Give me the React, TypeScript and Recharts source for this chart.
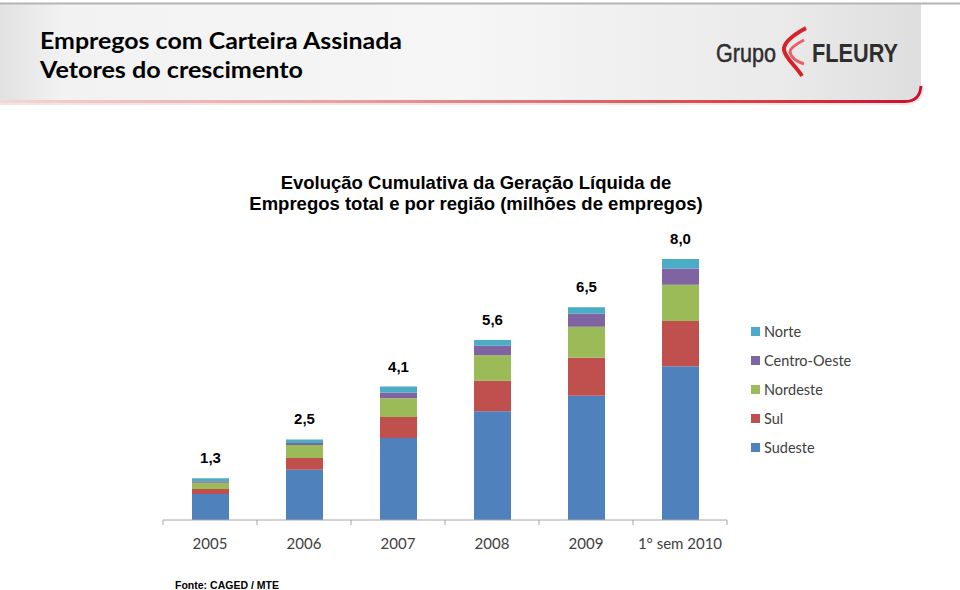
import React from "react";
import { Bar, BarChart, LabelList, XAxis, YAxis } from "recharts";

const categories = ["2005", "2006", "2007", "2008", "2009", "1° sem 2010"];
const totals = [1.3, 2.5, 4.1, 5.6, 6.5, 8.0];

// milhões de empregos, acumulado por região
const sudeste = [0.8, 1.54, 2.51, 3.33, 3.81, 4.71];
const sul = [0.15, 0.36, 0.65, 0.94, 1.16, 1.39];
const nordeste = [0.19, 0.4, 0.57, 0.78, 0.95, 1.11];
const centroOeste = [0.05, 0.06, 0.18, 0.29, 0.4, 0.5];
const norte = [0.09, 0.11, 0.18, 0.18, 0.2, 0.29];

const series = [
  { key: "sudeste", name: "Sudeste", color: "#4F81BD", values: sudeste },
  { key: "sul", name: "Sul", color: "#C0504D", values: sul },
  { key: "nordeste", name: "Nordeste", color: "#9BBB59", values: nordeste },
  { key: "centroOeste", name: "Centro-Oeste", color: "#8064A2", values: centroOeste },
  { key: "norte", name: "Norte", color: "#4BACC6", values: norte },
];

const data = categories.map((cat, i) => {
  const row: Record<string, string | number> = { cat, total: totals[i] };
  series.forEach((s) => {
    row[s.key] = s.values[i];
  });
  return row;
});

const CALIBRI = "Lato, 'Open Sans', sans-serif";
const ARIAL = "'Liberation Sans', Arial, sans-serif";
const BAND_HALF = 47;

function YearTick(props: any) {
  const { x, y, payload, index } = props;
  const last = index === categories.length - 1;
  return (
    <g>
      <line x1={x - BAND_HALF} x2={x - BAND_HALF} y1={y} y2={y + 5} stroke="#a6a6a6" />
      {last && (
        <line x1={x + BAND_HALF} x2={x + BAND_HALF} y1={y} y2={y + 5} stroke="#a6a6a6" />
      )}
      <text
        x={x}
        y={y + 29}
        textAnchor="middle"
        fontFamily={CALIBRI}
        fontSize={15}
        fill="#404040"
      >
        {payload.value}
      </text>
    </g>
  );
}

function Header() {
  return (
    <svg width={960} height={112} style={{ position: "absolute", left: 0, top: 0 }}>
      <defs>
        <linearGradient id="hdrBg" x1="0" x2="1" y1="0" y2="0">
          <stop offset="0" stopColor="#e2e2e2" />
          <stop offset="0.07" stopColor="#f2f2f2" />
          <stop offset="0.5" stopColor="#f6f6f6" />
          <stop offset="0.85" stopColor="#eaeaea" />
          <stop offset="1" stopColor="#dedede" />
        </linearGradient>
        <linearGradient id="redLine" x1="0" x2="1" y1="0" y2="0">
          <stop offset="0" stopColor="#f3d6d6" />
          <stop offset="0.4" stopColor="#e79a9a" />
          <stop offset="0.8" stopColor="#d9434a" />
          <stop offset="1" stopColor="#c8102e" />
        </linearGradient>
      </defs>
      <path d="M0,4 L921,4 L921,86 Q920,101 905,101 L0,101 Z" fill="url(#hdrBg)" />
      <line x1={0} x2={960} y1={3.5} y2={3.5} stroke="#b4b4b4" strokeWidth={2} />
      <path d="M0,101.5 L905,101.5 Q920,101.5 921,86" fill="none" stroke="url(#redLine)" strokeWidth={3} />
      <path d="M0,104 L905,104 Q922,104 923,88" fill="none" stroke="#f0d0d0" strokeWidth={2} opacity={0.6} />
      <text x={40} y={49} fontFamily={CALIBRI} fontWeight={700} fontSize={23} fill="#000" textLength={362} lengthAdjust="spacingAndGlyphs">
        Empregos com Carteira Assinada
      </text>
      <text x={40} y={78} fontFamily={CALIBRI} fontWeight={700} fontSize={23} fill="#000" textLength={263} lengthAdjust="spacingAndGlyphs">
        Vetores do crescimento
      </text>
      <text x={716} y={62} fontFamily={ARIAL} fontSize={26} fill="#2e2e2e" stroke="#2e2e2e" strokeWidth={0.5} textLength={60} lengthAdjust="spacingAndGlyphs">
        Grupo
      </text>
      <path d="M806,28 C795,34 783,42 784,50 C785,58 796,66 802,76" fill="none" stroke="#d4232b" strokeWidth={4} />
      <path d="M804,40 C796,44 790,48 790,52 C791,58 798,62 804,64" fill="none" stroke="#e86066" strokeWidth={3} />
      <text x={812} y={62} fontFamily={ARIAL} fontWeight={700} fontSize={25} fill="#2e2e2e" textLength={86} lengthAdjust="spacingAndGlyphs">
        FLEURY
      </text>
    </svg>
  );
}

export default function App() {
  const legendItems = [...series].reverse();
  return (
    <div style={{ position: "absolute", left: 0, top: 0, width: 960, height: 590, background: "#fff", overflow: "hidden" }}>
      <Header />
      <svg width={960} height={590} style={{ position: "absolute", left: 0, top: 0 }}>
        <text x={476} y={189} textAnchor="middle" fontFamily={ARIAL} fontWeight={700} fontSize={18.5} fill="#000">
          Evolução Cumulativa da Geração Líquida de
        </text>
        <text x={476} y={210} textAnchor="middle" fontFamily={ARIAL} fontWeight={700} fontSize={18.5} fill="#000">
          Empregos total e por região (milhões de empregos)
        </text>
        {legendItems.map((s, i) => (
          <g key={s.key}>
            <rect x={751} y={327 + i * 29} width={9} height={9} fill={s.color} />
            <text x={764} y={337 + i * 29} fontFamily={CALIBRI} fontSize={14.5} fill="#404040">
              {s.name}
            </text>
          </g>
        ))}
        <text x={175} y={589} fontFamily={ARIAL} fontWeight={700} fontSize={11} fill="#000" textLength={104} lengthAdjust="spacingAndGlyphs">
          Fonte: CAGED / MTE
        </text>
      </svg>
      <div style={{ position: "absolute", left: 0, top: 0 }}>
        <BarChart
          width={960}
          height={590}
          data={data}
          margin={{ top: 259, right: 233, left: 163, bottom: 0 }}
        >
          <XAxis
            dataKey="cat"
            height={70}
            axisLine={{ stroke: "#a6a6a6" }}
            tickLine={false}
            tickSize={0}
            tickMargin={0}
            interval={0}
            tick={<YearTick />}
          />
          <YAxis hide domain={[0, 8]} />
          {series.map((s, i) => (
            <Bar
              key={s.key}
              dataKey={s.key}
              name={s.name}
              stackId="total"
              fill={s.color}
              barSize={37}
              isAnimationActive={false}
            >
              {i === series.length - 1 && (
                <LabelList
                  dataKey="total"
                  position="top"
                  offset={15}
                  fontFamily={ARIAL}
                  fontWeight={700}
                  fontSize={15}
                  fill="#000"
                  formatter={(v: any) => Number(v).toFixed(1).replace(".", ",")}
                />
              )}
            </Bar>
          ))}
        </BarChart>
      </div>
    </div>
  );
}
